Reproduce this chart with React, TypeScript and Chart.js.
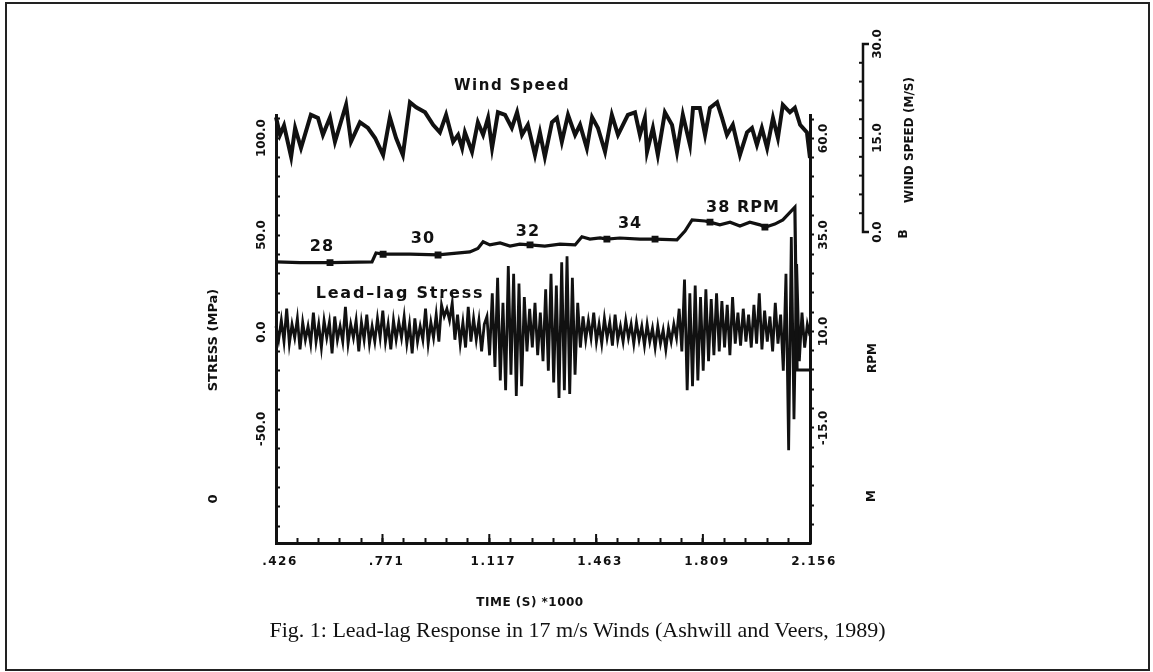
import React, { useEffect, useRef } from 'react';
import { Chart, registerables } from 'chart.js';
Chart.register(...registerables);

// ---- tick labels ----
const TIME_TICKS = [0.426, 0.771, 1.117, 1.463, 1.809, 2.156];
const TIME_TICK_LABELS = ['.426', '.771', '1.117', '1.463', '1.809', '2.156'];
const STRESS_TICKS = [-50, 0, 50, 100];
const STRESS_TICK_LABELS = ['-50.0', '0.0', '50.0', '100.0'];
const RPM_TICKS = [-15, 10, 35, 60];
const RPM_TICK_LABELS = ['-15.0', '10.0', '35.0', '60.0'];
const WIND_AXIS_TICKS = [0, 15, 30];
const WIND_AXIS_LABELS = ['0.0', '15.0', '30.0'];

// ---- wind speed (m/s) ----
const WIND_TIME = [
  0.426, 0.439, 0.452, 0.475, 0.488, 0.507, 0.539, 0.562, 0.578, 0.601,
  0.617, 0.653, 0.669, 0.698, 0.724, 0.747, 0.773, 0.795, 0.815, 0.837,
  0.860, 0.880, 0.909, 0.935, 0.957, 0.977, 1.000, 1.016, 1.029, 1.038,
  1.061, 1.080, 1.097, 1.113, 1.126, 1.145, 1.168, 1.190, 1.207, 1.223,
  1.242, 1.265, 1.281, 1.297, 1.320, 1.336, 1.352, 1.372, 1.395, 1.411,
  1.433, 1.450, 1.469, 1.492, 1.514, 1.534, 1.550, 1.566, 1.589, 1.605,
  1.621, 1.628, 1.647, 1.663, 1.686, 1.709, 1.725, 1.744, 1.767, 1.777,
  1.799, 1.816, 1.832, 1.855, 1.871, 1.887, 1.906, 1.929, 1.952, 1.968,
  1.984, 2.000, 2.017, 2.036, 2.052, 2.068, 2.091, 2.107, 2.124, 2.146,
  2.156,
];
const WIND_SPEED = [
  18.3, 15.5, 17.0, 12.0, 16.6, 13.4, 18.7, 18.2, 15.5, 18.3,
  14.4, 20.3, 14.4, 17.5, 16.6, 15.0, 12.3, 18.3, 15.0, 12.3,
  20.7, 19.9, 19.1, 17.1, 15.9, 18.7, 14.4, 15.5, 13.4, 15.9,
  12.8, 17.5, 15.5, 18.2, 13.4, 19.1, 18.7, 16.6, 19.1, 15.5,
  17.1, 12.3, 15.9, 12.0, 17.5, 18.2, 14.4, 18.7, 15.5, 17.1,
  13.4, 18.3, 16.6, 12.8, 18.7, 15.5, 17.1, 18.7, 19.1, 15.5,
  18.2, 12.8, 16.6, 12.3, 19.1, 17.1, 12.8, 18.7, 13.9, 19.8,
  19.8, 15.5, 19.8, 20.7, 18.2, 15.5, 17.1, 12.3, 15.9, 16.6,
  13.9, 16.6, 13.4, 18.2, 15.0, 20.3, 19.1, 19.8, 17.1, 15.9,
  11.8,
];

// ---- rotor speed (RPM) ----
const RPM_TIME = [
  0.426, 0.504, 0.601, 0.737, 0.750, 0.773, 0.860, 0.951, 1.054, 1.080,
  1.097, 1.119, 1.152, 1.184, 1.216, 1.249, 1.297, 1.346, 1.395, 1.417,
  1.443, 1.476, 1.498, 1.540, 1.605, 1.654, 1.725, 1.751, 1.774, 1.816,
  1.832, 1.864, 1.897, 1.929, 1.961, 1.994, 2.010, 2.042, 2.068, 2.107,
  2.114, 2.156,
];
const RPM_VALUES = [
  28.0, 27.8, 27.8, 28.0, 30.3, 30.0, 30.0, 29.8, 30.6, 31.5,
  33.2, 32.4, 32.9, 32.1, 32.6, 32.4, 32.1, 32.6, 32.4, 34.5,
  33.9, 34.2, 33.9, 34.2, 33.9, 33.9, 33.7, 36.0, 38.9, 38.6,
  38.3, 37.6, 38.3, 37.3, 38.3, 37.6, 37.0, 37.8, 38.9, 42.2,
  0, 0,
];
const RPM_MARKERS = [2, 5, 7, 15, 22, 25, 30, 36];
const RPM_STEP_LABELS = ['28', '30', '32', '34', '38 RPM'];
const RPM_STEP_TIMES = [0.575, 0.902, 1.242, 1.573, 1.939];
const RPM_STEP_LEVELS = [28, 30, 32, 34, 38];

// ---- lead-lag stress (MPa), evenly sampled over the time span ----
const STRESS_START = 0.426;
const STRESS_END = 2.156;
const STRESS_MPA = [
  3, -4, 6, -5, 12, -6, 4, -3, 7, -9, 5, -4, 3, -6, 10, -5, 4, -8, 6, -3,
  5, -11, 8, -4, 3, -5, 13, -6, 4, -3, 6, -10, 5, -4, 9, -6, 3, -5, 7, -3,
  11, -5, 4, -9, 6, -4, 5, -3, 8, -6, 4, -11, 7, -5, 3, -4, 12, -6, 5, -3,
  9, -5, 14, 8, 12, 6, 15, -4, 9, -6, 5, -8, 13, -5, 7, -4, 6, -10, 4,
  8, -12, 20, -18, 28, -25, 15, -30, 34, -22, 30, -33, 25, -28, 18, -10,
  12, -8, 15, -12,
  10, -15, 22, -20, 30, -26, 24, -34, 36, -30, 39, -32, 28, -22, 15, -8,
  8, -4, 6, -3, 10, -5, 4, -6, 7, -3, 5, -7, 9, -4, 3, -5, 6, -3, 4, -6,
  5, -4, 3, -7, 4, -5, 2, -8, 3, -6, 1, -9, 2, -5, 4, -3,
  12, -10, 27, -30, 20, -28, 24, -25, 18, -20, 22, -15, 17, -12, 20, -10, 16, -8, 14, -12, 18, -6, 10,
  -7, 12, -5, 9, -8, 14, -6, 20, -9, 11, -5, 8, -10, 15, -6, 9,
  -20, 30, -61, 49, -45, 35, -15,
  10, -8, 4, -2,
];

const INK = '#111';
const BOLD = (px: number) => `bold ${px}px "DejaVu Sans", sans-serif`;

function rotText(ctx: CanvasRenderingContext2D, text: string, x: number, y: number, font: string) {
  ctx.save();
  ctx.translate(x, y);
  ctx.rotate(-Math.PI / 2);
  ctx.font = font;
  ctx.textAlign = 'center';
  ctx.textBaseline = 'middle';
  ctx.fillText(text, 0, 0);
  ctx.restore();
}

function flatText(ctx: CanvasRenderingContext2D, text: string, x: number, y: number, font: string, spacing = 0) {
  ctx.save();
  ctx.font = font;
  (ctx as any).letterSpacing = `${spacing}px`;
  ctx.textAlign = 'center';
  ctx.textBaseline = 'middle';
  ctx.fillText(text, x, y);
  ctx.restore();
}

const decorPlugin = {
  id: 'decor',
  afterDraw(chart: any) {
    const ctx: CanvasRenderingContext2D = chart.ctx;
    const { x, yS, yR, yW } = chart.scales;
    const area = chart.chartArea;
    ctx.save();
    ctx.fillStyle = INK;
    ctx.strokeStyle = INK;

    // longer major ticks on time axis
    ctx.lineWidth = 2;
    TIME_TICKS.forEach((t) => {
      const px = x.getPixelForValue(t);
      ctx.beginPath();
      ctx.moveTo(px, area.bottom);
      ctx.lineTo(px, area.bottom - 9);
      ctx.stroke();
    });

    // time tick labels
    TIME_TICKS.forEach((t, i) => {
      flatText(ctx, TIME_TICK_LABELS[i], x.getPixelForValue(t) + 4, area.bottom + 19, BOLD(12), 1.5);
    });
    flatText(ctx, 'TIME (S) *1000', 530, 603, BOLD(12), 0.5);

    // stress axis labels (left)
    STRESS_TICKS.forEach((v, i) => rotText(ctx, STRESS_TICK_LABELS[i], 262, yS.getPixelForValue(v), BOLD(12)));
    rotText(ctx, 'STRESS (MPa)', 214, yS.getPixelForValue(0) + 8, BOLD(13));
    rotText(ctx, '0', 214, 499, BOLD(13));

    // rpm axis labels (right)
    RPM_TICKS.forEach((v, i) => rotText(ctx, RPM_TICK_LABELS[i], 824, yR.getPixelForValue(v), BOLD(12)));
    rotText(ctx, 'RPM', 873, 358, BOLD(12));
    rotText(ctx, 'M', 872, 496, BOLD(12));

    // wind speed axis (far right), drawn on the wind scale
    const wx = 863;
    const w0 = yW.getPixelForValue(0);
    const w30 = yW.getPixelForValue(30);
    ctx.lineWidth = 2.5;
    ctx.beginPath();
    ctx.moveTo(wx + 6, w30);
    ctx.lineTo(wx, w30);
    ctx.lineTo(wx, w0);
    ctx.lineTo(wx + 6, w0);
    ctx.stroke();
    ctx.lineWidth = 2;
    for (let v = 3; v < 30; v += 3) {
      const py = yW.getPixelForValue(v);
      ctx.beginPath();
      ctx.moveTo(wx, py);
      ctx.lineTo(wx - 4, py);
      ctx.stroke();
    }
    WIND_AXIS_TICKS.forEach((v, i) => rotText(ctx, WIND_AXIS_LABELS[i], 878, yW.getPixelForValue(v), BOLD(12)));
    rotText(ctx, 'WIND SPEED (M/S)', 910, 140, BOLD(12));
    rotText(ctx, 'B', 904, 234, BOLD(12));

    // in-plot annotations
    flatText(ctx, 'Wind Speed', 512, 86, BOLD(15), 1.5);
    flatText(ctx, 'Lead–lag Stress', 400, 294, BOLD(16), 1.8);
    RPM_STEP_LABELS.forEach((lab, i) => {
      flatText(ctx, lab, x.getPixelForValue(RPM_STEP_TIMES[i]), yR.getPixelForValue(RPM_STEP_LEVELS[i]) - 15, BOLD(16), 1);
    });
    ctx.restore();
  },
};

export default function App() {
  const canvasRef = useRef<HTMLCanvasElement | null>(null);

  useEffect(() => {
    const canvas = canvasRef.current;
    if (!canvas) return;

    const xTicks: number[] = [];
    for (let i = 0; i < TIME_TICKS.length - 1; i++) {
      const a = TIME_TICKS[i];
      const b = TIME_TICKS[i + 1];
      for (let k = 0; k < 5; k++) xTicks.push(a + (k * (b - a)) / 5);
    }
    xTicks.push(TIME_TICKS[TIME_TICKS.length - 1]);

    const nS = STRESS_MPA.length;
    const stressData = STRESS_MPA.map((v, i) => ({ x: STRESS_START + (i * (STRESS_END - STRESS_START)) / (nS - 1), y: v }));
    const windData = WIND_TIME.map((t, i) => ({ x: t, y: WIND_SPEED[i] }));
    const rpmData = RPM_TIME.map((t, i) => ({ x: t, y: RPM_VALUES[i] }));

    const zeroW = (s: any) => { s.width = 0; };
    const zeroH = (s: any) => { s.height = 0; };

    const chart = new Chart(canvas, {
      type: 'line',
      data: {
        datasets: [
          {
            label: 'Wind Speed',
            data: windData,
            yAxisID: 'yW',
            borderColor: INK,
            borderWidth: 4,
            borderJoinStyle: 'miter',
            pointRadius: 0,
            tension: 0,
            clip: false as any,
          },
          {
            label: 'RPM',
            data: rpmData,
            yAxisID: 'yR',
            borderColor: INK,
            borderWidth: 3.2,
            pointRadius: (c: any) => (RPM_MARKERS.includes(c.dataIndex) ? 2.6 : 0),
            pointStyle: 'rect',
            pointBackgroundColor: INK,
            pointBorderColor: INK,
            tension: 0,
            clip: false as any,
          },
          {
            label: 'Lead-lag Stress',
            data: stressData,
            yAxisID: 'yS',
            borderColor: INK,
            borderWidth: 2.8,
            pointRadius: 0,
            tension: 0,
            clip: false as any,
          },
        ],
      },
      options: {
        responsive: false,
        animation: false,
        events: [],
        layout: { padding: { left: 276, right: 343, top: 115, bottom: 129 } },
        plugins: { legend: { display: false }, tooltip: { enabled: false }, title: { display: false } },
        scales: {
          x: {
            type: 'linear',
            position: 'bottom',
            min: 0.426,
            max: 2.156,
            afterFit: zeroH,
            afterBuildTicks: (s: any) => { s.ticks = xTicks.map((v) => ({ value: v })); },
            ticks: { display: false },
            grid: { display: true, drawOnChartArea: false, drawTicks: true, tickLength: -5, tickWidth: 2, tickColor: INK },
            border: { display: true, color: INK, width: 3 },
          },
          yS: {
            type: 'linear',
            position: 'left',
            min: -108.76,
            max: 111.86,
            afterFit: zeroW,
            afterBuildTicks: (s: any) => {
              const t: any[] = [];
              for (let v = -100; v <= 110; v += 10) t.push({ value: v });
              s.ticks = t;
            },
            ticks: { display: false },
            grid: { display: true, drawOnChartArea: false, drawTicks: true, tickLength: -4, tickWidth: 2, tickColor: INK },
            border: { display: true, color: INK, width: 3 },
          },
          yR: {
            type: 'linear',
            position: 'right',
            min: -44.82,
            max: 66.06,
            afterFit: zeroW,
            afterBuildTicks: (s: any) => {
              const t: any[] = [];
              for (let v = -40; v <= 65; v += 5) t.push({ value: v });
              s.ticks = t;
            },
            ticks: { display: false },
            grid: { display: true, drawOnChartArea: false, drawTicks: true, tickLength: 4, tickWidth: 2, tickColor: INK },
            border: { display: true, color: INK, width: 3 },
          },
          yW: {
            type: 'linear',
            display: false,
            min: -49.62,
            max: 18.67,
          },
        },
      },
      plugins: [decorPlugin],
    } as any);

    return () => chart.destroy();
  }, []);

  return (
    <div style={{ position: 'absolute', left: 0, top: 0, width: 1153, height: 672, background: '#fff', overflow: 'hidden' }}>
      <div style={{ position: 'absolute', left: 5, top: 2, width: 1141, height: 665, border: '2px solid #222' }} />
      <canvas ref={canvasRef} width={1153} height={672} style={{ position: 'absolute', left: 0, top: 0, display: 'block' }} />
      <div
        style={{
          position: 'absolute',
          left: 5,
          width: 1145,
          top: 617,
          textAlign: 'center',
          fontFamily: '"Liberation Serif", "Times New Roman", serif',
          fontSize: 22,
          color: '#111',
        }}
      >
        Fig. 1: Lead-lag Response in 17 m/s Winds (Ashwill and Veers, 1989)
      </div>
    </div>
  );
}
